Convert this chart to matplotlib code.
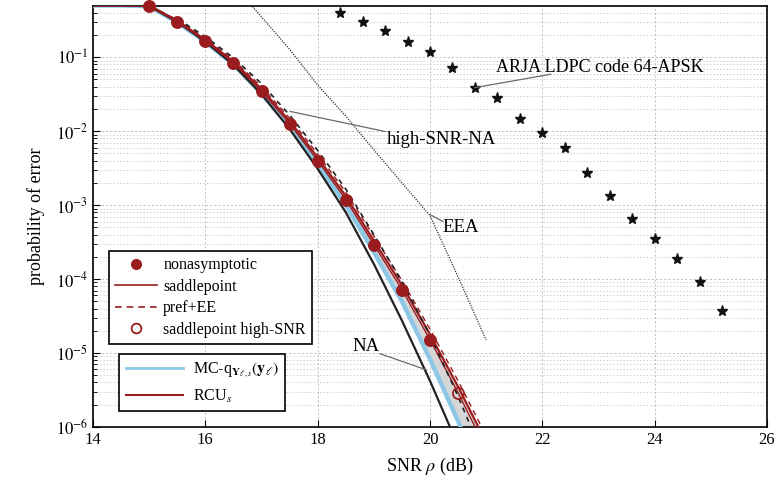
import matplotlib
matplotlib.use("Agg")
import matplotlib.pyplot as plt
from matplotlib.lines import Line2D
import numpy as np

plt.rcParams['font.family'] = ['Liberation Serif', 'DejaVu Serif']
plt.rcParams['mathtext.fontset'] = 'stix'

# ---------------- data ----------------
snr_curve = [14, 14.5, 15, 15.5, 16, 16.5, 17, 17.5, 18, 18.5, 19, 19.5, 20, 20.5, 21]
saddlepoint = [0.5, 0.5, 0.49, 0.30, 0.166, 0.083, 0.0346, 0.0126, 0.0040, 1.19e-3, 2.92e-4, 7.2e-5, 1.51e-5, 2.9e-6, 5.0e-7]
rcu_s = [0.5, 0.5, 0.5, 0.31, 0.172, 0.087, 0.037, 0.0137, 0.0044, 1.33e-3, 3.3e-4, 8.3e-5, 1.78e-5, 3.5e-6, 6.2e-7]
pref_ee = [0.5, 0.5, 0.5, 0.32, 0.18, 0.092, 0.040, 0.0150, 0.0049, 1.5e-3, 3.8e-4, 9.6e-5, 2.1e-5, 4.2e-6, 7.6e-7]
mc_q = [0.5, 0.5, 0.49, 0.297, 0.162, 0.080, 0.0323, 0.0115, 3.56e-3, 1.01e-3, 2.32e-4, 5.0e-5, 8.3e-6, 1.2e-6, 1.6e-7]
na = [0.5, 0.5, 0.49, 0.30, 0.162, 0.079, 0.0316, 0.0107, 3.1e-3, 8.0e-4, 1.6e-4, 2.75e-5, 4.2e-6, 5.6e-7, 7.0e-8]

snr_hsna = [15.5, 16, 16.5, 17, 17.5, 18, 18.5, 19, 19.5, 20, 20.5, 21]
high_snr_na = [0.33, 0.19, 0.098, 0.044, 0.0165, 0.0055, 1.65e-3, 4.0e-4, 9.2e-5, 1.75e-5, 2.6e-6, 3.2e-7]

snr_eea = [16.7, 17, 17.5, 18, 18.5, 19, 19.5, 20, 20.5, 21]
eea = [0.64, 0.35, 0.128, 0.042, 0.016, 5.6e-3, 2.0e-3, 7.2e-4, 1.07e-4, 1.5e-5]

snr_nonasym = [15, 15.5, 16, 16.5, 17, 17.5, 18, 18.5, 19, 19.5, 20]
nonasymptotic = [0.5, 0.30, 0.166, 0.083, 0.0346, 0.0126, 0.0040, 1.19e-3, 2.92e-4, 7.2e-5, 1.51e-5]

snr_hs = [15, 15.5, 16, 16.5, 17, 17.5, 18, 18.5, 19, 19.5, 20, 20.5]
saddle_high_snr = [0.5, 0.30, 0.166, 0.083, 0.0346, 0.0126, 0.0040, 1.19e-3, 2.92e-4, 7.2e-5, 1.51e-5, 2.9e-6]

snr_ldpc = [18.4, 18.8, 19.2, 19.6, 20.0, 20.4, 20.8, 21.2, 21.6, 22.0, 22.4, 22.8, 23.2, 23.6, 24.0, 24.4, 24.8, 25.2]
ldpc = [0.394, 0.30, 0.223, 0.161, 0.118, 0.0725, 0.0388, 0.0278, 0.01476, 0.00933, 0.00597, 0.00268,
        0.00132, 6.5e-4, 3.49e-4, 1.87e-4, 9.1e-5, 3.65e-5]

xticks = [14, 16, 18, 20, 22, 24, 26]
ytick_exp = [-6, -5, -4, -3, -2, -1]

# ---------------- style ----------------
RED = '#9b1c1f'
BLUE = '#8cc8e6'
GRAY_FILL = '#d6d6d6'

fig = plt.figure(figsize=(7.79, 4.87), dpi=100)
ax = fig.add_axes([0.1194, 0.1232, 0.8652, 0.8655])
ax.set_yscale('log')
ax.set_xlim(14, 26)
ax.set_ylim(1e-6, 0.5)

ax.grid(True, which='major', color='#b5b5b5', linestyle=(0, (2.5, 2.5)), linewidth=0.6)
ax.grid(True, which='minor', axis='y', color='#c0c0c0', linestyle=(0, (1.5, 2.5)), linewidth=0.6)

ax.fill_between(snr_curve, mc_q, rcu_s, color=GRAY_FILL, linewidth=0, zorder=2)
ax.plot(snr_curve, mc_q, color=BLUE, lw=3.2, zorder=3, solid_capstyle='butt')
ax.plot(snr_curve, na, color='#222222', lw=1.6, zorder=4)
ax.plot(snr_curve, rcu_s, color=RED, lw=1.6, zorder=4)
ax.plot(snr_curve, saddlepoint, color=RED, lw=1.0, zorder=5)
ax.plot(snr_curve, pref_ee, color=RED, lw=1.0, ls=(0, (4, 3)), zorder=5)
ax.plot(snr_hsna, high_snr_na, color='#222222', lw=1.2, ls=(0, (3, 3)), zorder=5)
ax.plot(snr_eea, eea, color='#333333', lw=0.9, ls=(0, (1, 1)), zorder=4)

ax.plot(snr_hs, saddle_high_snr, ls='none', marker='o', ms=8, mfc='none', mec=RED, mew=1.3, zorder=6, clip_on=False)
ax.plot(snr_nonasym, nonasymptotic, ls='none', marker='o', ms=7, mfc=RED, mec=RED, zorder=7, clip_on=False)
ax.plot(snr_ldpc, ldpc, ls='none', marker='*', ms=8, color='#111111', zorder=6)

# annotations
ann = dict(color='#6a6a6a', lw=0.9, zorder=8)
ax.plot([20.8, 22.15], [0.0388, 0.0588], **ann)
ax.text(23.03, 0.0731, 'ARJA LDPC code 64-APSK', ha='center', va='center', fontsize=13, zorder=9)
ax.plot([17.51, 19.2], [0.0185, 0.0099], **ann)
ax.text(20.21, 7.74e-3, 'high-SNR-NA', ha='center', va='center', fontsize=13.5, zorder=9)
ax.plot([20.0, 20.23], [7.46e-4, 6.0e-4], **ann)
ax.text(20.55, 5.0e-4, 'EEA', ha='center', va='center', fontsize=13.5, zorder=9)
ax.plot([19.11, 19.94], [9.8e-6, 5.9e-6], **ann)
ax.text(18.86, 1.21e-5, 'NA', ha='center', va='center', fontsize=13.5, zorder=9)

ax.set_xticks(xticks)
ax.set_xticklabels([str(t) for t in xticks])
ax.set_yticks([10.0 ** e for e in ytick_exp])
ax.set_yticklabels([r'$10^{%d}$' % e for e in ytick_exp])
ax.tick_params(which='both', direction='in', labelsize=12)
ax.tick_params(which='major', length=5, width=0.8)
ax.tick_params(which='minor', length=3, width=0.6)
for s in ax.spines.values():
    s.set_linewidth(1.2)

ax.set_xlabel(r'SNR $\rho$ (dB)', fontsize=13, labelpad=6)
ax.set_ylabel('probability of error', fontsize=13, labelpad=8)

# legends
h1 = [Line2D([], [], ls='none', marker='o', ms=7, mfc=RED, mec=RED),
      Line2D([], [], color=RED, lw=1.2),
      Line2D([], [], color=RED, lw=1.2, ls=(0, (4, 3))),
      Line2D([], [], ls='none', marker='o', ms=7, mfc='none', mec=RED, mew=1.3)]
l1 = ['nonasymptotic', 'saddlepoint', 'pref+EE', 'saddlepoint high-SNR']
leg1 = ax.legend(h1, l1, loc='upper left', bbox_to_anchor=(0.0237, 0.418), fontsize=11.5,
                 frameon=True, fancybox=False, edgecolor='black', framealpha=1,
                 handlelength=2.6, handletextpad=0.4, borderpad=0.4, labelspacing=0.35, borderaxespad=0)
leg1.get_frame().set_linewidth(1.2)
ax.add_artist(leg1)

h2 = [Line2D([], [], color=BLUE, lw=2.0), Line2D([], [], color=RED, lw=1.5)]
l2 = [r'MC-q$_{\mathbf{Y}_{\ell,s}}(\mathbf{y}_{\ell})$', r'RCU$_{s}$']
leg2 = ax.legend(h2, l2, loc='upper left', bbox_to_anchor=(0.039, 0.173), fontsize=11.5,
                 frameon=True, fancybox=False, edgecolor='black', framealpha=1,
                 handlelength=3.6, handletextpad=0.6, borderpad=0.4, labelspacing=0.5, borderaxespad=0)
leg2.get_frame().set_linewidth(1.2)

fig.savefig('out.png', dpi=100)
